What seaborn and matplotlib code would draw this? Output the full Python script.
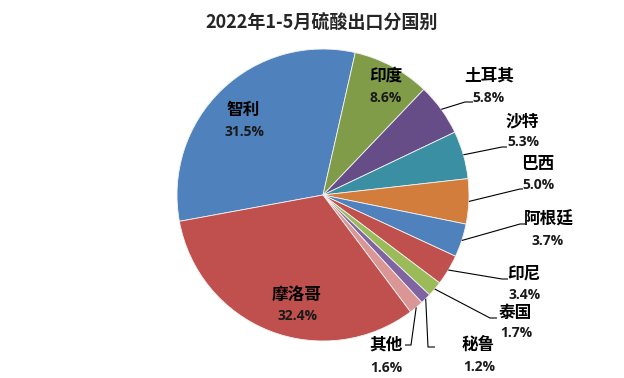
import numpy as np
import matplotlib
matplotlib.use("Agg")
import matplotlib.pyplot as plt
import seaborn as sns

# datos del grafico
paises = ['智利', '印度', '土耳其', '沙特', '巴西', '阿根廷', '印尼', '泰国', '秘鲁', '其他', '摩洛哥']
porcentajes = [31.5, 8.6, 5.8, 5.3, 5.0, 3.7, 3.4, 1.7, 1.2, 1.6, 32.4]
etiquetas_pct = ['31.5%', '8.6%', '5.8%', '5.3%', '5.0%', '3.7%', '3.4%', '1.7%', '1.2%', '1.6%', '32.4%']
colores = ['#4F81BD', '#809C49', '#664D88', '#3A8FA3', '#D27D3C', '#4F81BD',
           '#C0504D', '#9BBB59', '#8064A2', '#D99694', '#C0504D']

# posiciones de los textos (pixeles, y hacia abajo): nombre, porcentaje
pos_nombre = [(243, 110), (386, 76), (489, 76), (522, 121), (538, 164), (549, 220),
              (524, 274), (515, 313), (478, 345), (386, 345), (297, 295)]
pos_pct = [(244, 132), (386, 98), (488, 98), (523, 142), (538, 185), (548, 241),
           (525, 295), (516, 333), (479, 367), (386, 368), (297, 316)]
# lineas guia: codo y final (solo etiquetas de afuera)
codos = {2: ((465, 102), 473), 3: ((502, 147), 507), 4: ((520, 189), 523),
         5: ((520, 224), 525), 6: ((502, 279), 508), 7: ((490, 318), 497),
         8: ((428, 347), 435), 9: ((411, 345), 405)}

sns.set_theme(style="white")
plt.rcParams['font.family'] = ['Noto Sans CJK SC', 'DejaVu Sans']

W, H = 624, 378
fig = plt.figure(figsize=(W / 100, H / 100), dpi=100)
ax = fig.add_axes([0, 0, 1, 1])

centro = (323, H - 195)
radio = 146
wedges, _ = ax.pie(porcentajes, colors=colores, startangle=190.4, counterclock=False,
                   center=centro, radius=radio,
                   wedgeprops=dict(edgecolor='#F2F2F2', linewidth=0.6))
ax.set_xlim(0, W)
ax.set_ylim(0, H)
ax.axis('off')

# lineas guia desde el borde de cada porcion
for i, (codo, xfin) in codos.items():
    w = wedges[i]
    ang = np.deg2rad((w.theta1 + w.theta2) / 2)
    x0 = centro[0] + radio * np.cos(ang)
    y0 = centro[1] + radio * np.sin(ang)
    ax.plot([x0, codo[0], xfin], [y0, H - codo[1], H - codo[1]],
            color='black', lw=0.8, solid_capstyle='butt')

# textos
for i in range(len(paises)):
    ax.text(pos_nombre[i][0], H - pos_nombre[i][1], paises[i], ha='center', va='center',
            fontsize=12, fontweight='bold', family=['Noto Sans CJK SC', 'DejaVu Sans'],
            color='black')
    ax.text(pos_pct[i][0], H - pos_pct[i][1], etiquetas_pct[i], ha='center', va='center',
            fontsize=10, fontweight='bold', family=['Open Sans', 'DejaVu Sans'], color='#1A1A1A')

ax.text(322, H - 23, '2022年1-5月硫酸出口分国别', ha='center', va='center',
        fontsize=13, fontweight='bold', family=['Noto Sans CJK SC', 'DejaVu Sans'])

fig.savefig('out.png', dpi=100, facecolor='white')
